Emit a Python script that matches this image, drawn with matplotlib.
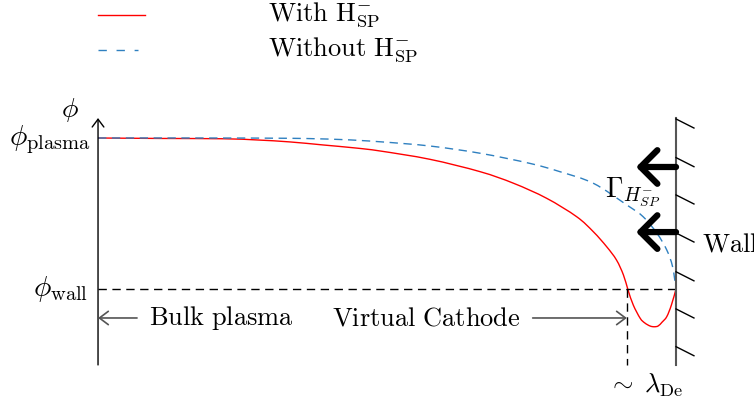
import matplotlib
matplotlib.use("Agg")
import matplotlib.pyplot as plt
import numpy as np
from matplotlib.path import Path
from matplotlib.patches import PathPatch

plt.rcParams["mathtext.fontset"] = "cm"
plt.rcParams["font.family"] = ["DejaVu Serif"]

# Normalised coordinates: x = 0 bulk side, x = 1 wall; phi = 0 wall potential, phi = 1 plasma potential
x_with = [0.0, 0.107, 0.216, 0.275, 0.332, 0.389, 0.445, 0.488, 0.574, 0.661, 0.719,
          0.776, 0.828, 0.857, 0.880, 0.897, 0.909, 0.917, 0.926, 0.938, 0.946, 0.955,
          0.962, 0.969, 0.976, 0.984, 0.992, 1.0]
phi_with = [1.0, 0.997, 0.995, 0.987, 0.974, 0.954, 0.934, 0.914, 0.859, 0.777, 0.700,
            0.601, 0.479, 0.379, 0.280, 0.192, 0.093, -0.007, -0.106, -0.194, -0.225,
            -0.245, -0.250, -0.245, -0.219, -0.183, -0.106, 0.0]

x_without = [0.0, 0.176, 0.332, 0.419, 0.488, 0.574, 0.661, 0.747, 0.799, 0.857, 0.915,
             0.943, 0.967, 0.984, 0.994, 1.0]
phi_without = [1.0, 1.0, 0.998, 0.990, 0.975, 0.947, 0.899, 0.832, 0.777, 0.700, 0.556,
               0.479, 0.369, 0.258, 0.148, 0.0]

label_with = r"$\mathrm{With\ H^{-}_{SP}}$"
label_without = r"$\mathrm{Without\ H^{-}_{SP}}$"

x_cathode_edge = 0.915
wall_hatch_y = [1.126, 0.870, 0.623, 0.371, 0.114, -0.132, -0.382]
flux_arrow_y = [0.808, 0.377]

RED = "#ff0000"
BLUE = "#2f80c0"
GRAY = "#555555"
FS = 19


def smooth_path(ax, xs, ys):
    """Bezier path passing through the points (Catmull-Rom tangents, in display space)."""
    pts = ax.transData.transform(np.column_stack([xs, ys]))
    n = len(pts)
    verts = [pts[0]]
    codes = [Path.MOVETO]
    for i in range(n - 1):
        p0 = pts[i - 1] if i > 0 else pts[i]
        p1, p2 = pts[i], pts[i + 1]
        p3 = pts[i + 2] if i + 2 < n else pts[i + 1]
        c1 = p1 + (p2 - p0) / 6.0
        c2 = p2 - (p3 - p1) / 6.0
        verts += [c1, c2, p2]
        codes += [Path.CURVE4] * 3
    verts = ax.transData.inverted().transform(np.array(verts))
    return Path(verts, codes)


fig = plt.figure(figsize=(7.54, 3.98), dpi=100)
ax = fig.add_axes([0, 0, 1, 1])
ax.set_xlim(-0.1696, 1.1349)
ax.set_ylim(-0.7219, 1.9139)
ax.axis("off")

y_bot, y_top = -0.503, 1.132

# potential profiles
ax.add_patch(PathPatch(smooth_path(ax, x_with, phi_with), facecolor="none",
                       edgecolor=RED, lw=1.0))
ax.add_patch(PathPatch(smooth_path(ax, x_without, phi_without), facecolor="none",
                       edgecolor=BLUE, lw=1.0, linestyle=(0, (6, 4))))

# phi axis
ax.annotate("", xy=(0, y_top), xytext=(0, y_bot),
            arrowprops=dict(arrowstyle="->,head_length=0.4,head_width=0.3", color="black",
                            lw=1.0, shrinkA=0, shrinkB=0, mutation_scale=14))
ax.text(-0.048, 1.185, r"$\phi$", fontsize=FS + 1, ha="center", va="center")
ax.text(-0.012, 0.99, r"$\phi_{\mathrm{plasma}}$", fontsize=FS + 2, ha="right", va="center")
ax.text(-0.017, 0.0, r"$\phi_{\mathrm{wall}}$", fontsize=FS + 2, ha="right", va="center")

# wall level and virtual cathode edge
ax.plot([0, 1], [0, 0], color="black", lw=1.0, dashes=(6, 4))
ax.plot([x_cathode_edge, x_cathode_edge], [0, y_bot], color="black", lw=1.0, dashes=(6, 4))

# wall with hatching
ax.plot([1, 1], [y_top, y_bot], color=GRAY, lw=1.5)
for yh in wall_hatch_y:
    ax.plot([1, 1.031], [yh, yh - 0.060], color="black", lw=1.0)
ax.text(1.045, 0.298, r"$\mathrm{Wall}$", fontsize=FS, ha="left", va="center")

# surface-produced negative ion flux
for ya in flux_arrow_y:
    ax.annotate("", xy=(0.931, ya), xytext=(1.0, ya),
                arrowprops=dict(arrowstyle="->,head_length=0.55,head_width=0.55",
                                color="black", lw=4.5, shrinkA=0, shrinkB=0,
                                mutation_scale=22))
ax.text(0.877, 0.609, r"$\Gamma_{H^{-}_{SP}}$", fontsize=FS + 1, ha="left", va="baseline")

# region labels
y_row = -0.192
ax.annotate("", xy=(0, y_row), xytext=(0.0675, y_row),
            arrowprops=dict(arrowstyle="->,head_length=0.4,head_width=0.3", color=GRAY,
                            lw=1.2, shrinkA=0, shrinkB=0, mutation_scale=16))
ax.text(0.088, y_row, r"$\mathrm{Bulk\ plasma}$", fontsize=FS, ha="left", va="center")
ax.text(0.405, y_row, r"$\mathrm{Virtual\ Cathode}$", fontsize=FS, ha="left", va="center")
ax.annotate("", xy=(x_cathode_edge, y_row), xytext=(0.752, y_row),
            arrowprops=dict(arrowstyle="->,head_length=0.4,head_width=0.3", color=GRAY,
                            lw=1.2, shrinkA=0, shrinkB=0, mutation_scale=16))
ax.text(0.948, -0.636, r"$\sim\;\lambda_{\mathrm{De}}$", fontsize=FS, ha="center", va="center")

# legend
ax.plot([0, 0.081], [1.815, 1.815], color=RED, lw=1.0)
ax.plot([0, 0.07], [1.583, 1.583], color=BLUE, lw=1.0, dashes=(6, 7))
ax.text(0.294, 1.815, label_with, fontsize=FS, ha="left", va="center")
ax.text(0.294, 1.583, label_without, fontsize=FS, ha="left", va="center")

fig.savefig("out.png", dpi=100)
